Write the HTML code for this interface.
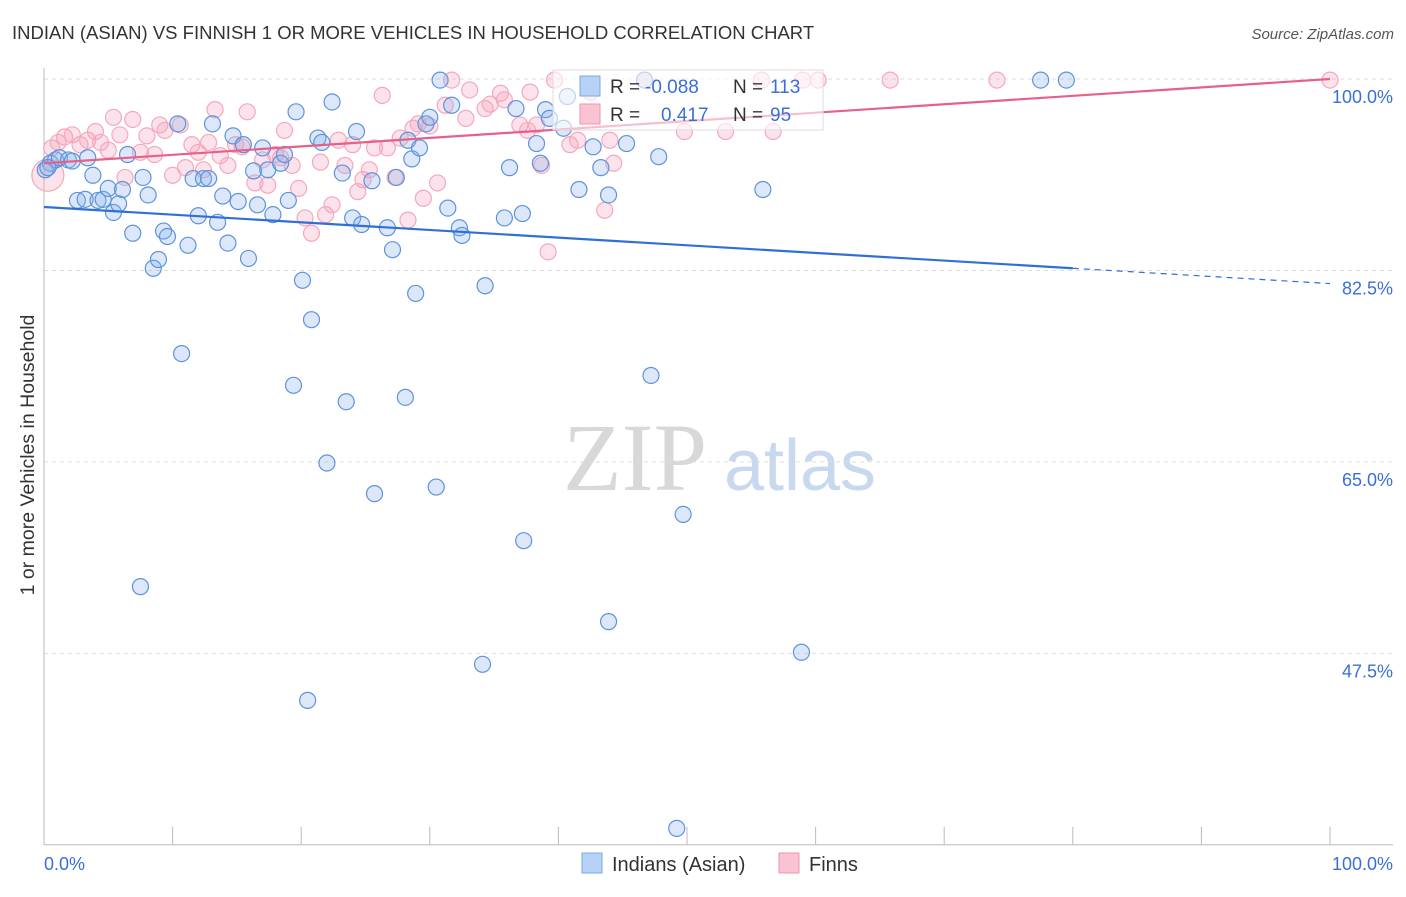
<!DOCTYPE html>
<html><head><meta charset="utf-8">
<style>
html,body{margin:0;padding:0;background:#fff;}
body{width:1406px;height:892px;overflow:hidden;font-family:"Liberation Sans",sans-serif;}
</style></head>
<body>
<svg id="chart" width="1406" height="892" xmlns="http://www.w3.org/2000/svg" font-family="Liberation Sans, sans-serif">
<text x="12" y="39" font-size="18.5" fill="#333">INDIAN (ASIAN) VS FINNISH 1 OR MORE VEHICLES IN HOUSEHOLD CORRELATION CHART</text>
<text x="1394" y="39" font-size="15" fill="#555" font-style="italic" text-anchor="end">Source: ZipAtlas.com</text>
<g>
<text x="635" y="490" font-size="96" fill="#d8d8d8" font-family="Liberation Serif, serif" text-anchor="middle">ZIP</text>
<text x="800" y="490" font-size="72" fill="#c8d8ee" text-anchor="middle">atlas</text>
</g>
<g id="grid"></g>
<g id="axes"></g>
<g id="pts"></g>
<g id="trend"></g>
<text transform="translate(34,455) rotate(-90)" font-size="19.5" fill="#333" text-anchor="middle">1 or more Vehicles in Household</text>
<g>
<rect x="553" y="70" width="270" height="60" fill="#fff" fill-opacity="0.6" stroke="#ddd"/>
<rect x="580" y="76" width="20" height="20" fill="#b8d2f5" stroke="#7aa8e6"/>
<rect x="580" y="104" width="20" height="20" fill="#f9c3d3" stroke="#f094b0"/>
<text x="610" y="93" font-size="19" fill="#333">R = </text><text x="645" y="93" font-size="19" fill="#3a6fd8">-0.088</text>
<text x="733" y="93" font-size="19" fill="#333">N = </text><text x="770" y="93" font-size="19" fill="#3a6fd8">113</text>
<text x="610" y="121" font-size="19" fill="#333">R = </text><text x="661" y="121" font-size="19" fill="#3a6fd8">0.417</text>
<text x="733" y="121" font-size="19" fill="#333">N = </text><text x="770" y="121" font-size="19" fill="#3a6fd8">95</text>
</g>
<g>
<rect x="582" y="853" width="20" height="20" fill="#b8d2f5" stroke="#7aa8e6"/>
<text x="612" y="871" font-size="20" fill="#333">Indians (Asian)</text>
<rect x="779" y="853" width="20" height="20" fill="#f9c3d3" stroke="#f094b0"/>
<text x="809" y="871" font-size="20" fill="#333">Finns</text>
</g>
</svg>
<script>
const yTicks=[100,82.5,65,47.5];
const yTickLabels=["100.0%","82.5%","65.0%","47.5%"];
const xTickVals=[0,10,20,30,40,50,60,70,80,90,100];
const blueX=[0.5,0.9,1.2,1.9,2.2,3.4,2.6,3.2,3.8,4.2,4.6,5.0,5.4,5.8,6.1,6.5,6.9,7.7,8.1,8.5,8.9,9.3,9.6,10.4,10.7,11.2,11.6,12.0,12.4,12.8,13.1,13.5,13.9,14.3,14.7,15.1,15.5,15.9,16.3,16.6,17.0,17.4,17.8,18.4,18.7,19.0,19.4,19.6,20.1,20.8,21.3,21.6,22.0,22.4,23.2,23.5,24.0,24.3,24.7,25.5,25.7,26.7,27.1,27.4,28.1,28.3,28.6,28.9,29.2,29.7,30.0,30.5,30.8,31.4,31.7,32.3,32.5,34.1,34.3,35.8,36.2,36.7,37.2,37.3,38.3,38.6,39.0,39.3,40.4,40.7,41.6,42.7,43.3,43.9,43.9,45.3,46.7,47.2,47.8,49.2,49.7,55.9,58.9,77.5,79.5,7.5,20.5,0.1,0.3];
const blueY=[92.3,92.6,92.8,92.6,92.5,92.8,88.9,89.0,91.2,88.9,89.0,90.0,87.8,88.6,89.9,93.1,85.9,91.0,89.4,82.7,83.5,86.1,85.6,95.9,74.9,84.8,90.9,87.5,90.9,90.9,95.9,86.9,89.3,85.0,94.8,88.8,94.0,83.6,91.6,88.5,93.7,91.7,87.6,92.3,93.1,88.9,72.0,97.0,81.6,78.0,94.6,94.2,64.9,97.9,91.4,70.5,87.3,95.2,86.7,90.7,62.1,86.4,84.4,91.0,70.9,94.4,92.7,80.4,93.7,95.9,96.5,62.7,99.9,88.2,97.6,86.4,85.7,46.5,81.1,87.3,91.9,97.3,87.7,57.8,94.1,92.3,97.2,96.4,95.5,98.4,89.9,93.8,91.9,89.4,50.4,94.1,99.9,72.9,92.9,31.5,60.2,89.9,47.6,99.9,99.9,53.6,43.2,91.7,91.9];
const pinkX=[0.3,0.6,1.1,1.6,2.2,2.8,3.4,4.0,4.4,5.0,5.4,5.9,6.3,6.9,7.5,8.0,8.6,9.0,9.4,10.0,10.6,11.0,11.5,12.0,12.4,12.8,13.3,13.7,14.3,14.9,15.4,15.8,16.4,17.0,17.4,18.0,18.4,18.7,19.3,19.8,20.3,20.8,21.5,21.9,22.4,22.9,23.4,24.0,24.4,24.8,25.3,25.7,26.3,26.7,27.3,27.7,28.3,28.7,29.1,29.5,30.0,30.6,31.2,31.7,32.8,33.1,34.3,34.7,35.5,35.8,37.0,37.6,37.8,38.3,38.7,39.2,39.7,40.9,41.5,42.5,43.6,44.0,44.3,46.7,49.8,53.0,55.8,56.7,59.0,60.2,65.8,74.1,100];
const pinkY=[91.2,93.7,94.2,94.7,94.9,94.0,94.4,95.2,94.2,93.5,96.5,94.9,91.0,96.3,93.3,94.8,93.1,95.8,95.3,91.2,95.8,91.9,94.0,93.3,91.7,94.2,97.2,93.0,92.1,94.0,93.8,97.0,90.5,92.6,90.3,93.1,92.8,95.3,92.1,90.0,87.3,85.9,92.4,87.6,88.5,94.4,92.1,94.0,89.7,90.8,91.7,93.7,98.5,93.7,91.0,94.6,87.1,95.5,95.9,89.1,95.7,90.5,97.6,99.9,96.4,99.0,97.3,97.7,98.7,98.1,95.8,95.3,98.8,95.8,92.1,84.2,99.9,94.0,94.4,98.8,88.0,94.4,92.3,99.9,95.2,95.2,99.9,95.2,99.9,99.9,99.9,99.9,99.9];
const blueTrend=[88.3,82.7];   // value at x=0 and x=80
const pinkTrend=[92.3,100.0];  // value at x=0 and x=100
const NS="http://www.w3.org/2000/svg";
const X0=44,X1=1330,YT=79,PXPER=10.94;
function sx(v){return X0+(X1-X0)*v/100;}
function sy(v){return YT+(100-v)*PXPER;}
function mk(tag,at,parent){const e=document.createElementNS(NS,tag);for(const k in at)e.setAttribute(k,at[k]);parent.appendChild(e);return e;}
const grid=document.getElementById('grid'),axes=document.getElementById('axes'),pts=document.getElementById('pts'),trend=document.getElementById('trend');
yTicks.forEach((t,i)=>{
  const l=mk('line',{x1:X0,x2:1393,y1:sy(t),y2:sy(t),stroke:'#ddd','stroke-dasharray':'4,4'},grid);
  
  
  const tx=mk('text',{x:1393,y:sy(t)+24,'font-size':18,fill:'#3a6fd8','text-anchor':'end'},axes);
  tx.textContent=yTickLabels[i];
  
  
});
const bottom=sy(30);
let a=mk('line',{x1:X0,x2:1393,y1:bottom,y2:bottom,stroke:'#bbb'},axes);


a=mk('line',{x1:X0,x2:X0,y1:68,y2:bottom,stroke:'#bbb'},axes);


xTickVals.forEach(v=>{
  const t=mk('line',{x1:sx(v),x2:sx(v),y1:bottom-18,y2:bottom,stroke:'#bbb'},axes);
  
  
});
let xl=mk('text',{x:44,y:870,'font-size':18,fill:'#3a6fd8'},axes);xl.textContent='0.0%';


xl=mk('text',{x:1393,y:870,'font-size':18,fill:'#3a6fd8','text-anchor':'end'},axes);xl.textContent='100.0%';


pinkX.forEach((x,i)=>{
  const c=mk('circle',{cx:sx(x),cy:sy(pinkY[i]),r:i===0?16:8,fill:'rgba(245,160,185,0.3)',stroke:'#f4a8be','stroke-width':1.2},pts);
  
  
});
blueX.forEach((x,i)=>{
  const c=mk('circle',{cx:sx(x),cy:sy(blueY[i]),r:8,fill:'rgba(140,180,235,0.3)',stroke:'#5e93dc','stroke-width':1.2},pts);
  
  
});
let ln=mk('line',{x1:sx(0),y1:sy(blueTrend[0]),x2:sx(80),y2:sy(blueTrend[1]),stroke:'#2f6fd6','stroke-width':2.2},trend);


const b100=blueTrend[0]+(blueTrend[1]-blueTrend[0])*100/80;
ln=mk('line',{x1:sx(80),y1:sy(blueTrend[1]),x2:sx(100),y2:sy(b100),stroke:'#2f6fd6','stroke-width':1.2,'stroke-dasharray':'6,5'},trend);


ln=mk('line',{x1:sx(0),y1:sy(pinkTrend[0]),x2:sx(100),y2:sy(pinkTrend[1]),stroke:'#e8608a','stroke-width':2.2},trend);


</script>
</body></html>
